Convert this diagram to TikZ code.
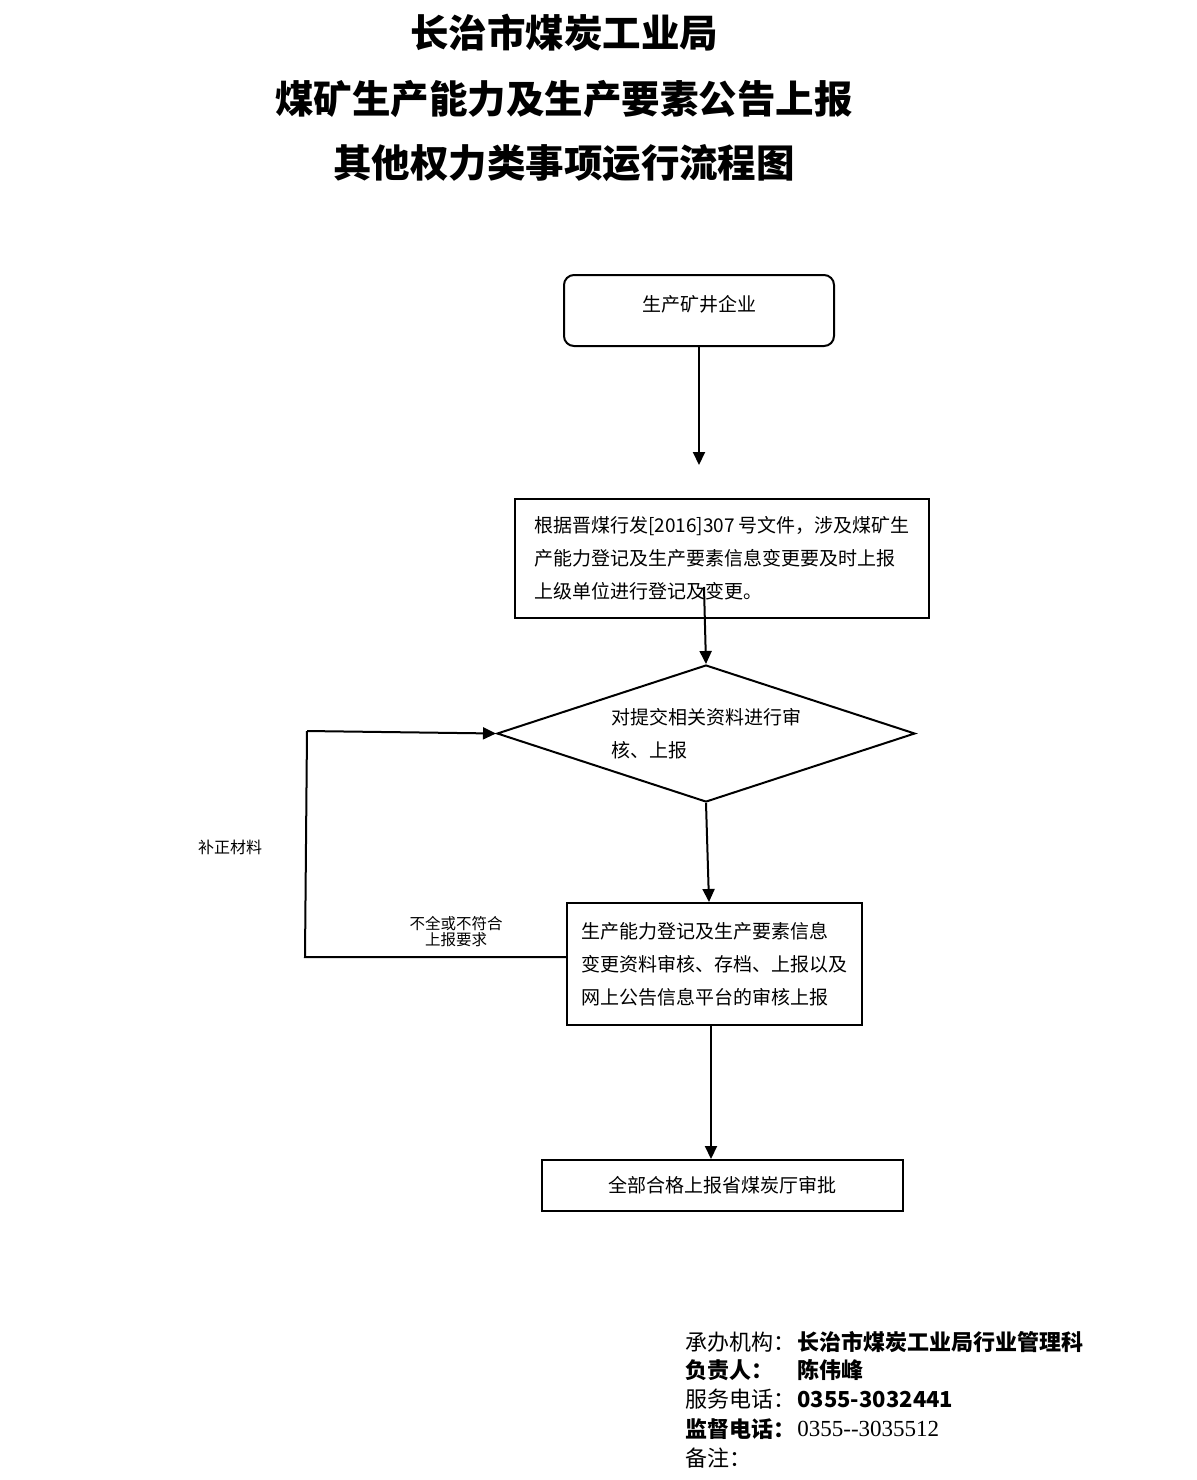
\documentclass[tikz,border=0pt]{standalone}
\usepackage{fontspec}
\setmainfont{Liberation Serif}
\newfontfamily\cjk{Noto Sans CJK SC}
\newfontfamily\serifnum{Liberation Serif}
\usetikzlibrary{shapes.geometric,arrows.meta}
\begin{document}
\begin{tikzpicture}[x=0.5pt,y=-0.5pt,
  boxtext/.style={font=\cjk\fontsize{9.5pt}{16.5pt}\selectfont},
  flowbox/.style={boxtext, draw, line width=1pt, rectangle, inner sep=0pt, align=left},
  conn/.style={line width=1pt},
  arr/.style={line width=1pt, -{Triangle[length=6.5pt,width=6pt]}},
  titletext/.style={font=\cjk\bfseries\fontsize{19.25pt}{22pt}\selectfont},
  foot/.style={anchor=west, inner sep=0pt, font=\cjk\fontsize{11pt}{13pt}\selectfont},
  footb/.style={anchor=west, inner sep=0pt, font=\cjk\bfseries\fontsize{11pt}{13pt}\selectfont}
]
\useasboundingbox (0,0) rectangle (1197,1480);
\fill[white] (0,0) rectangle (1197,1480);

% titles
\node[titletext] (t1) at (564,33) {长治市煤炭工业局};
\node[titletext] (t2) at (564,99) {煤矿生产能力及生产要素公告上报};
\node[titletext] (t3) at (564,163) {其他权力类事项运行流程图};

% flow nodes
\node[flowbox, rounded corners=5pt, minimum width=135pt, minimum height=35.5pt, align=center]
  (box1) at (699,310.5) {\raisebox{7.5pt}{生产矿井企业}};
\coordinate (e1) at (699,465);

\node[flowbox, minimum width=207pt, minimum height=59.5pt] (box2) at (722,558.5)
  {根据晋煤行发[2016]307 号文件，涉及煤矿生\\产能力登记及生产要素信息变更要及时上报\\上级单位进行登记及变更。};
\coordinate (s2) at (704,587);

\node[boxtext, draw, line width=1pt, shape=diamond, aspect=3.05, inner sep=0pt,
  minimum width=209pt, minimum height=68.5pt, align=left] (dia) at (706,733.5)
  {对提交相关资料进行审\\核、上报};

\node[flowbox, minimum width=147.5pt, minimum height=61pt] (box4) at (714.5,964)
  {生产能力登记及生产要素信息\\变更资料审核、存档、上报以及\\网上公告信息平台的审核上报};

\node[flowbox, minimum width=180.5pt, minimum height=25.5pt, align=center] (box5) at (722.5,1185.5)
  {全部合格上报省煤炭厅审批};

% connectors
\draw[arr] (box1.south) -- (e1);
\draw[arr] (s2) -- (dia.north);
\draw[arr] (dia.south) -- ([xshift=-2.75pt]box4.north);
\draw[arr] ([xshift=-1.75pt]box4.south) -- ([xshift=-5.75pt]box5.north);

\coordinate (c1) at (305,957);
\coordinate (c2) at (307,731);
\draw[conn] ([yshift=3.5pt]box4.west) -- (c1) -- (c2);
\draw[arr] (c2) -- (dia.west);

% labels
\node[font=\cjk\fontsize{8pt}{9pt}\selectfont, inner sep=0pt] (lb1) at (230,847) {补正材料};
\node[font=\cjk\fontsize{7.75pt}{8pt}\selectfont, inner sep=0pt, align=center] (lb2) at (456,932)
  {不全或不符合\\上报要求};

% footer
\node[foot] (f1) at (685,1342) {承办机构：};
\node[footb] (v1) at (797,1342) {长治市煤炭工业局行业管理科};
\node[footb] (f2) at (685,1370) {负责人：};
\node[footb] (v2) at (797,1370) {陈伟峰};
\node[foot] (f3) at (685,1399) {服务电话：};
\node[footb] (v3) at (797,1399) {0355-3032441};
\node[footb] (f4) at (685,1429) {监督电话：};
\node[anchor=west, inner sep=0pt, font=\serifnum\fontsize{11.5pt}{13pt}\selectfont] (v4) at (797,1429) {0355-{}-3035512};
\node[foot] (f5) at (685,1458) {备注：};
\end{tikzpicture}
\end{document}
